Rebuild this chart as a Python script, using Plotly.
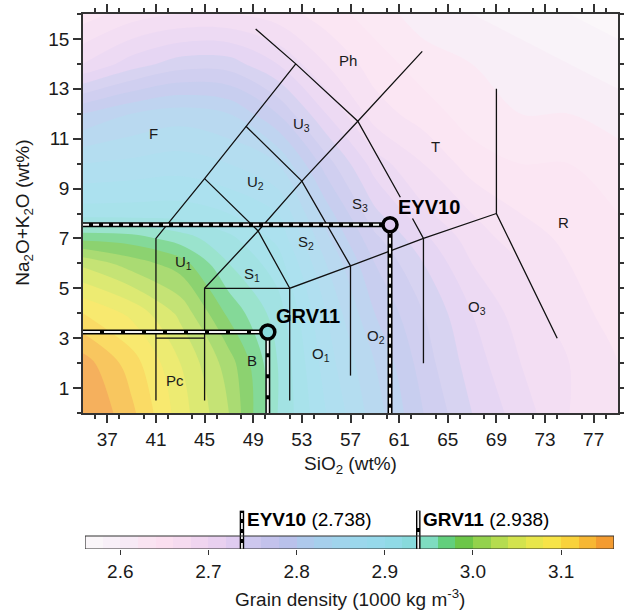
import plotly.graph_objects as go

# ---------------- data ----------------
# grain-density field (1000 kg m-3) sampled on a coarse SiO2 / alkali grid
sio2_grid = [35, 39, 43, 47, 51, 55, 59, 63, 67, 71, 75, 79]
alk_grid = [0, 2, 4, 6, 7, 8, 10, 12, 14, 16]
# one list per SiO2 value, ordered by alk_grid
density_by_sio2 = [
    [3.165, 3.15, 3.10, 3.035, 2.975, 2.91, 2.86, 2.80, 2.70, 2.65],  # 35
    [3.125, 3.11, 3.075, 3.01, 2.97, 2.91, 2.865, 2.82, 2.73, 2.67],  # 39
    [3.07, 3.06, 3.035, 2.99, 2.95, 2.91, 2.87, 2.83, 2.75, 2.68],    # 43
    [3.02, 3.01, 2.975, 2.94, 2.925, 2.90, 2.86, 2.82, 2.75, 2.68],   # 47
    [2.94, 2.94, 2.93, 2.91, 2.895, 2.88, 2.84, 2.78, 2.72, 2.67],    # 51
    [2.88, 2.87, 2.86, 2.84, 2.825, 2.81, 2.77, 2.72, 2.68, 2.65],    # 55
    [2.83, 2.82, 2.80, 2.78, 2.765, 2.745, 2.71, 2.67, 2.65, 2.63],   # 59
    [2.78, 2.77, 2.76, 2.74, 2.725, 2.705, 2.68, 2.65, 2.63, 2.61],   # 63
    [2.74, 2.73, 2.72, 2.70, 2.69, 2.68, 2.65, 2.63, 2.62, 2.60],     # 67
    [2.71, 2.70, 2.69, 2.68, 2.67, 2.66, 2.64, 2.62, 2.61, 2.59],     # 71
    [2.68, 2.68, 2.67, 2.66, 2.655, 2.65, 2.64, 2.62, 2.60, 2.58],    # 75
    [2.66, 2.66, 2.65, 2.65, 2.645, 2.64, 2.63, 2.61, 2.59, 2.57],    # 79
]

# discrete colour bands of the colour bar (2.56 -> 3.16, step 0.02)
band_min = 2.56
band_step = 0.02
band_colors = [
    "#faf6f9", "#f8f0f8", "#f7eaf6", "#fae4f2", "#fbdff0", "#f6dbf0",
    "#f0d5f0", "#e9d0f0", "#dfcbf0", "#cdc7ee", "#c3c2ec", "#b9c1eb",
    "#aec9ec", "#a6cfec", "#a0d4ec", "#9bd7ec", "#96d9eb", "#90dae6",
    "#88dadc", "#7edcc0", "#62cf7c", "#6cc648", "#93d24c", "#b5dc4f",
    "#d3e34d", "#e8e64b", "#f7e447", "#f9d23b", "#f7b733", "#f39b30",
]
cb_ticks = [2.6, 2.7, 2.8, 2.9, 3.0, 3.1]
cb_ticktext = ["2.6", "2.7", "2.8", "2.9", "3.0", "3.1"]

# samples
sample_names = ["EYV10", "GRV11"]
sample_sio2 = [60.25, 50.2]
sample_alk = [7.55, 3.25]
sample_density = [2.738, 2.938]
sample_label_pos = [(60.75, 8.25), (50.7, 3.9)]
sample_dash = ["6px,4px", "17px,4px"]

# TAS field boundaries (SiO2, Na2O+K2O)
tas_lines = [
    [(41, 0.5), (41, 7), (45, 9.4), (48.4, 11.5), (52.5, 14)],
    [(45, 0.5), (45, 5), (49.4, 7.3), (53, 9.3), (57.6, 11.7), (62.9, 14.5)],
    [(41, 3), (45, 3)],
    [(45, 5), (52, 5)],
    [(52, 0.5), (52, 5), (57, 5.9), (63, 7), (69, 8)],
    [(57, 1.5), (57, 5.9)],
    [(63, 2), (63, 7), (62.1, 7.8)],
    [(61.1, 8.65), (57.6, 11.7), (52.5, 14), (49.2, 15.4)],
    [(52, 5), (49.4, 7.3), (45, 9.4)],
    [(57, 5.9), (53, 9.3), (48.4, 11.5)],
    [(69, 13), (69, 8), (74, 3)],
]

field_labels = [
    ("F", 40.8, 11.2), ("Ph", 56.8, 14.15), ("U<sub>3</sub>", 53.0, 11.55),
    ("T", 63.95, 10.7), ("U<sub>2</sub>", 49.2, 9.25), ("S<sub>3</sub>", 57.8, 8.35),
    ("R", 74.5, 7.65), ("S<sub>2</sub>", 53.3, 6.85), ("U<sub>1</sub>", 43.3, 6.05),
    ("S<sub>1</sub>", 48.9, 5.55), ("O<sub>3</sub>", 67.4, 4.25), ("O<sub>2</sub>", 59.1, 3.05),
    ("O<sub>1</sub>", 54.6, 2.35), ("B", 48.9, 2.1), ("Pc", 42.6, 1.3),
]

# ---------------- figure ----------------
FONT = "Arial, Liberation Sans, sans-serif"
INK = "#1a1a1a"
AX = "#333333"

nb = len(band_colors)
contour_scale = [[k / (nb - 1), c] for k, c in enumerate(band_colors)]
step_scale = []
for k, c in enumerate(band_colors):
    step_scale.append([k / nb, c])
    step_scale.append([(k + 1) / nb, c])

density_rows = [list(r) for r in zip(*density_by_sio2)]

fig = go.Figure()

fig.add_trace(go.Contour(
    x=sio2_grid, y=alk_grid, z=density_rows,
    autocontour=False,
    contours=dict(start=band_min + band_step, end=band_min + band_step * (nb - 1),
                  size=band_step, coloring="fill", showlines=False),
    colorscale=contour_scale, showscale=False,
    line=dict(width=0, smoothing=1.0), opacity=0.78, hoverinfo="skip",
    xaxis="x", yaxis="y",
))

for seg in tas_lines:
    fig.add_trace(go.Scatter(
        x=[p[0] for p in seg], y=[p[1] for p in seg], mode="lines",
        line=dict(color="#111111", width=1.3), hoverinfo="skip", showlegend=False,
        xaxis="x", yaxis="y",
    ))


def band_color(v):
    k = int((v - band_min) / band_step)
    return band_colors[max(0, min(nb - 1, k))]


for name, sx, sy, dash in zip(sample_names, sample_sio2, sample_alk, sample_dash):
    xs = [35, sx, sx]
    ys = [sy, sy, 0]
    fig.add_trace(go.Scatter(x=xs, y=ys, mode="lines",
                             line=dict(color="#000000", width=5),
                             hoverinfo="skip", showlegend=False))
    fig.add_trace(go.Scatter(x=xs, y=ys, mode="lines",
                             line=dict(color="#f2f2f2", width=2, dash=dash),
                             hoverinfo="skip", showlegend=False))

fig.add_trace(go.Scatter(
    x=sample_sio2, y=sample_alk, mode="markers",
    marker=dict(size=14, color=[band_color(v) for v in sample_density],
                line=dict(color="#000000", width=3.5)),
    hoverinfo="skip", showlegend=False,
))

# colour bar as its own subplot
cb_centers = [round(band_min + band_step * (k + 0.5), 4) for k in range(nb)]
fig.add_trace(go.Heatmap(
    x=cb_centers, y=[0.5], z=[cb_centers],
    colorscale=step_scale, zmin=band_min, zmax=band_min + band_step * nb,
    showscale=False, hoverinfo="skip", xaxis="x2", yaxis="y2",
))
for v, dash in zip(sample_density, sample_dash):
    fig.add_trace(go.Scatter(x=[v, v], y=[0, 2.95], mode="lines",
                             line=dict(color="#000000", width=4.5),
                             hoverinfo="skip", showlegend=False, xaxis="x2", yaxis="y2"))
    fig.add_trace(go.Scatter(x=[v, v], y=[0, 2.95], mode="lines",
                             line=dict(color="#f2f2f2", width=1.8, dash=dash),
                             hoverinfo="skip", showlegend=False, xaxis="x2", yaxis="y2"))

annotations = []
for txt, x, y in field_labels:
    annotations.append(dict(x=x, y=y, xref="x", yref="y", text=txt, showarrow=False,
                            font=dict(family=FONT, size=15, color=INK)))
for name, (lx, ly) in zip(sample_names, sample_label_pos):
    annotations.append(dict(x=lx, y=ly, xref="x", yref="y", text="<b>%s</b>" % name,
                            showarrow=False, xanchor="left", yanchor="middle",
                            font=dict(family=FONT, size=20, color="#000000")))
for name, v in zip(sample_names, sample_density):
    annotations.append(dict(x=v, y=2.3, xref="x2", yref="y2", xshift=3,
                            text="<b>%s</b> (%.3f)" % (name, v), showarrow=False,
                            xanchor="left", yanchor="middle",
                            font=dict(family=FONT, size=19, color="#000000")))
annotations += [
    dict(x=0.561, y=0.244, xref="paper", yref="paper", text="SiO<sub>2</sub> (wt%)",
         xanchor="center", yanchor="middle",
         showarrow=False, font=dict(family=FONT, size=19, color=INK)),
    dict(x=0.0385, y=0.654, xref="paper", yref="paper",
         text="Na<sub>2</sub>O+K<sub>2</sub>O (wt%)", textangle=-90,
         xanchor="center", yanchor="middle",
         showarrow=False, font=dict(family=FONT, size=19, color=INK)),
    dict(x=0.561, y=0.0276, xref="paper", yref="paper",
         text="Grain density (1000 kg m<sup>-3</sup>)",
         xanchor="center", yanchor="middle",
         showarrow=False, font=dict(family=FONT, size=19, color=INK)),
]

axis_common = dict(showgrid=False, zeroline=False, showline=True, linecolor=AX,
                   linewidth=1.5, mirror="ticks", ticks="outside", ticklen=8,
                   tickwidth=1.5, tickcolor=AX, automargin=False,
                   tickfont=dict(family=FONT, size=19, color=INK))

fig.update_layout(
    width=624, height=615, margin=dict(l=0, r=0, t=0, b=0),
    paper_bgcolor="white", plot_bgcolor="white", showlegend=False,
    xaxis=dict(range=[35, 79], domain=[83 / 624, 618 / 624], anchor="y",
               tick0=37, dtick=4,
               minor=dict(dtick=2, ticks="outside", ticklen=4, tickwidth=1.5, tickcolor=AX),
               **axis_common),
    yaxis=dict(range=[0, 16], domain=[1 - 413 / 615, 1 - 14 / 615], anchor="x",
               tick0=1, dtick=2,
               minor=dict(dtick=1, ticks="outside", ticklen=4, tickwidth=1.5, tickcolor=AX),
               **axis_common),
    xaxis2=dict(range=[band_min, band_min + band_step * nb], domain=[85 / 624, 614 / 624],
                anchor="y2", tickvals=cb_ticks, ticktext=cb_ticktext, ticks="outside",
                ticklen=5, tickwidth=1.2, tickcolor=AX, showline=False, showgrid=False,
                zeroline=False, automargin=False,
                tickfont=dict(family=FONT, size=19, color=INK)),
    yaxis2=dict(range=[0, 3.4], domain=[1 - 549 / 615, 1 - 504.8 / 615], anchor="x2",
                visible=False, fixedrange=True),
    shapes=[dict(type="rect", xref="x2", yref="y2", x0=band_min,
                 x1=band_min + band_step * nb, y0=0, y1=1,
                 line=dict(color=AX, width=1.2), layer="above")],
    annotations=annotations,
)

fig.write_html("out.html")
